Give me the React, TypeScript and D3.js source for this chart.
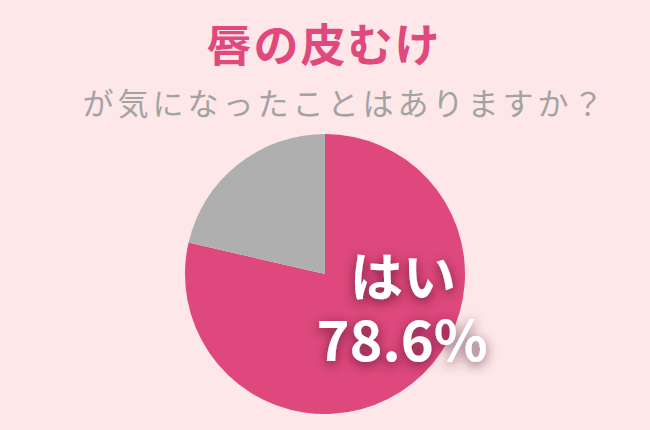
import React, { useEffect, useRef } from "react";
import * as d3 from "d3";

const labels = ["はい", "いいえ"];
const values = [78.6, 21.4];
const colors = ["#de487d", "#afafaf"];
const title = "唇の皮むけ";
const subtitle = "が気になったことはありますか？";

export default function App() {
  const svgRef = useRef<SVGSVGElement>(null);

  useEffect(() => {
    document.body.style.margin = "0";
    document.body.style.background = "#fde7e8";
    if (!svgRef.current) return;

    const width = 650;
    const height = 430;
    const cx = 325;
    const cy = 274;
    const radius = 140;

    d3.select(svgRef.current).selectAll("*").remove();

    const svg = d3.select(svgRef.current)
      .attr("width", width)
      .attr("height", height)
      .attr("viewBox", [0, 0, width, height])
      .style("display", "block");

    svg.append("rect")
      .attr("width", width)
      .attr("height", height)
      .attr("fill", "#fde7e8");

    const defs = svg.append("defs");
    const filter = defs.append("filter")
      .attr("id", "label-shadow")
      .attr("x", "-30%")
      .attr("y", "-30%")
      .attr("width", "160%")
      .attr("height", "160%");
    filter.append("feDropShadow")
      .attr("dx", 0)
      .attr("dy", 3)
      .attr("stdDeviation", 6)
      .attr("flood-color", "#3a0a1c")
      .attr("flood-opacity", 0.65);

    // Title
    svg.append("text")
      .attr("x", 324)
      .attr("y", 62)
      .attr("text-anchor", "middle")
      .attr("font-family", "'Noto Sans CJK JP', 'Noto Sans', sans-serif")
      .attr("font-weight", "bold")
      .attr("font-size", 45)
      .attr("letter-spacing", 2)
      .attr("fill", "#e0487e")
      .text(title);

    svg.append("text")
      .attr("x", 345)
      .attr("y", 115)
      .attr("text-anchor", "middle")
      .attr("font-family", "'Noto Sans CJK JP', 'Noto Sans', sans-serif")
      .attr("font-size", 31)
      .attr("letter-spacing", 4)
      .attr("fill", "#a3a3a3")
      .text(subtitle);

    // Pie
    const pie = d3.pie<number>().sort(null).value(d => d);
    const arc = d3.arc<d3.PieArcDatum<number>>()
      .innerRadius(0)
      .outerRadius(radius);

    svg.append("g")
      .attr("transform", `translate(${cx},${cy})`)
      .selectAll("path")
      .data(pie(values))
      .join("path")
      .attr("fill", (d, i) => colors[i])
      .attr("d", arc);

    // Label for the main slice
    const label = svg.append("g")
      .attr("filter", "url(#label-shadow)")
      .attr("font-family", "'Noto Sans CJK JP', 'Noto Sans', sans-serif")
      .attr("font-weight", "bold")
      .attr("fill", "#ffffff")
      .attr("text-anchor", "middle");

    label.append("text")
      .attr("x", 403)
      .attr("y", 297)
      .attr("font-size", 53)
      .text(labels[0]);

    label.append("text")
      .attr("x", 402)
      .attr("y", 361)
      .attr("font-size", 56)
      .text(`${values[0]}%`);
  }, []);

  return <svg ref={svgRef}></svg>;
}
